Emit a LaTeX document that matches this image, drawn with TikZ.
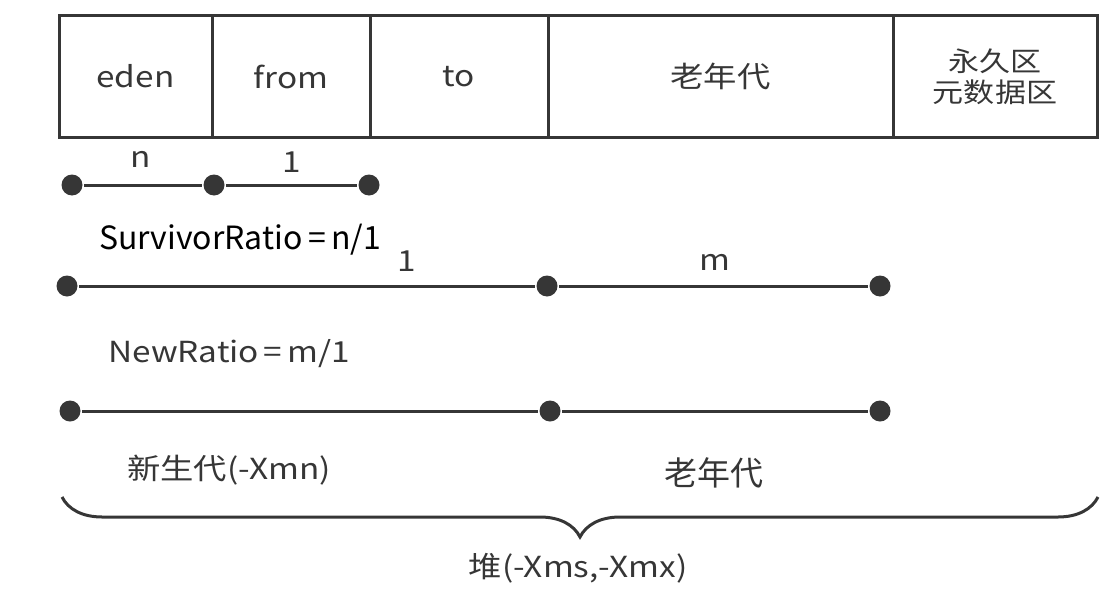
\documentclass[tikz,border=0pt]{standalone}
\usepackage{fontspec}
\setmainfont[FakeStretch=1.15]{Noto Sans CJK SC}
\newfontfamily\plainfont{Noto Sans CJK SC}
\usetikzlibrary{positioning,decorations.pathreplacing}
\definecolor{inkgray}{HTML}{363636}
\begin{document}
\begin{tikzpicture}[x=1pt,y=-1pt,line width=3pt,
  cell/.style={draw=inkgray,minimum height=121pt,inner sep=0pt,outer sep=0pt,align=center,
    font=\fontsize{29}{34}\selectfont,text=inkgray},
  dot/.style={circle,fill=inkgray,inner sep=0pt,minimum size=21pt},
  lbl/.style={font=\fontsize{29}{34}\selectfont,text=inkgray}]
\useasboundingbox (0,0) rectangle (1113,594);
% heap cells
\node[cell,minimum width=153pt](eden)at(135.5,76.5){eden};
\node[cell,minimum width=158pt,right=0pt of eden](from){from};
\node[cell,minimum width=178pt,right=0pt of from](to){to};
\node[cell,minimum width=345pt,right=0pt of to](old){老年代};
\node[cell,minimum width=204pt,right=0pt of old,font=\fontsize{27}{32}\selectfont](perm){永久区\\[-1pt]元数据区};
% survivor ratio
\node[dot](s1)at(72,185){};\node[dot](s2)at(214,185){};\node[dot](s3)at(369,185){};
\draw[inkgray](s1)--(s2)--(s3);
\node[lbl](sn)at(141,159){n};\node[lbl](s1l)at(292,162){1};
\node[font=\plainfont\fontsize{32}{36}\selectfont](srat)at(240,240){SurvivorRatio\,=\,n/1};
% new ratio
\node[dot](r1)at(67,286){};\node[dot](r2)at(547,286){};\node[dot](r3)at(880,286){};
\draw[inkgray](r1)--(r2)--(r3);
\node[lbl](r1l)at(407,261){1};\node[lbl](rm)at(715,262){m};
\node[lbl](nrat)at(229,354){NewRatio\,=\,m/1};
% young / old
\node[dot](g1)at(70,411){};\node[dot](g2)at(550,411){};\node[dot](g3)at(880,411){};
\draw[inkgray](g1)--(g2)--(g3);
\node[lbl](young)at(229,470){新生代(-Xmn)};
\node[font=\plainfont\fontsize{33}{37}\selectfont,text=inkgray](oldl)at(714,473){老年代};
% heap brace
\coordinate(hl)at(62,497);\coordinate(hr)at(1098,497);
\draw[inkgray,decorate,decoration={brace,amplitude=40pt}](hr)--(hl);
\node[lbl](heap)at(578,568){堆(-Xms,-Xmx)};
\end{tikzpicture}
\end{document}
